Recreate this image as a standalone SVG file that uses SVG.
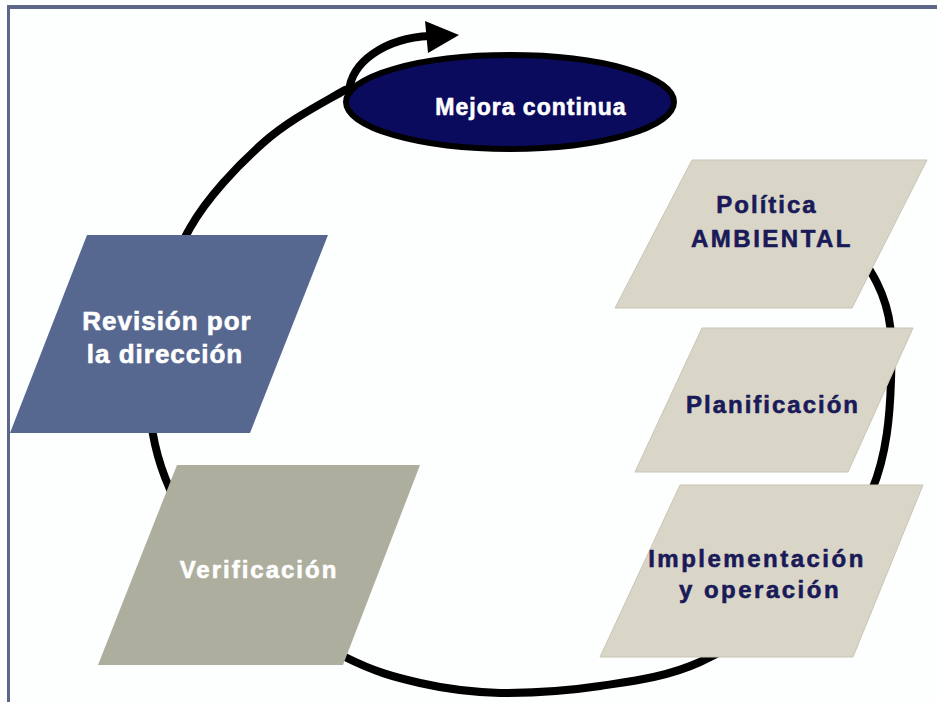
<svg xmlns="http://www.w3.org/2000/svg" width="937" height="702" viewBox="0 0 937 702">
<style>
.ring{fill:none;stroke:#000;stroke-width:8;stroke-linecap:round}
.t{font-family:"Liberation Sans",Arial,sans-serif;font-weight:bold;font-size:24px;text-anchor:middle;stroke-width:0.6}
.w{fill:#ffffff;stroke:#ffffff}
.n{fill:#1a1a58;stroke:#1a1a58}
.beige{fill:#d9d6c8;stroke:#c9c5b5;stroke-width:1}
</style>
<rect x="0" y="0" width="937" height="702" fill="#fdfefe"/>
<rect x="7" y="5" width="930" height="4" fill="#5d6789"/>
<rect x="7" y="5" width="3" height="697" fill="#5d6789"/>
<g id="connectors">
<path class="ring" d="M790,178 C820,205 860,249 877,283 C894,317 892,345 891,380 C890,414 887,454 872,490 C857,526 829,566 800,595 C771,624 733,647 700,662 C667,677 633,681 600,686 C567,691 530,693 500,693 C470,692 446,689 420,683 C394,677 375,672 345,657 C315,641 268,616 240,590 C212,564 190,530 175,500 C160,470 152,440 150,410 C147,380 153,350 160,320 C167,290 173,257 190,228 C207,198 237,166 263,143 C289,120 319,105 345,90"/>
</g>
<g id="revision">
<polygon points="87,235 328,235 250,433 10,433" fill="#576890"/>
<text class="t w" x="167" y="330" style="font-size:26px" letter-spacing="1">Revisión por</text>
<text class="t w" x="165" y="363" style="font-size:26px" letter-spacing="1">la dirección</text>
</g>
<g id="verificacion">
<polygon points="177,465 420,465 343,665 98,665" fill="#adae9d"/>
<text class="t w" x="259" y="578" letter-spacing="2">Verificación</text>
</g>
<g id="politica">
<polygon class="beige" points="692,160 927,160 852,308 615,308"/>
<text class="t n" x="767" y="213" letter-spacing="2">Política</text>
<text class="t n" x="772" y="247" letter-spacing="2.5">AMBIENTAL</text>
</g>
<g id="planificacion">
<polygon class="beige" points="702,328 913,328 848,472 635,472"/>
<text class="t n" x="773" y="413" letter-spacing="2">Planificación</text>
</g>
<g id="implementacion">
<polygon class="beige" points="680,485 923,485 853,657 600,657"/>
<text class="t n" x="757" y="567" letter-spacing="2.5">Implementación</text>
<text class="t n" x="760" y="598" letter-spacing="2.5">y operación</text>
</g>
<g id="mejora">
<ellipse cx="510" cy="102" rx="164" ry="47" fill="#0b0b5e" stroke="#000" stroke-width="6"/>
<text class="t w" x="531" y="115" style="font-size:23px" letter-spacing="1">Mejora continua</text>
</g>
<g id="arrow">
<path class="ring" d="M349,92 C351,62 385,38 430,36" stroke-linecap="butt"/>
<polygon points="425,21 459,35 428,53" fill="#000"/>
</g>
</svg>
